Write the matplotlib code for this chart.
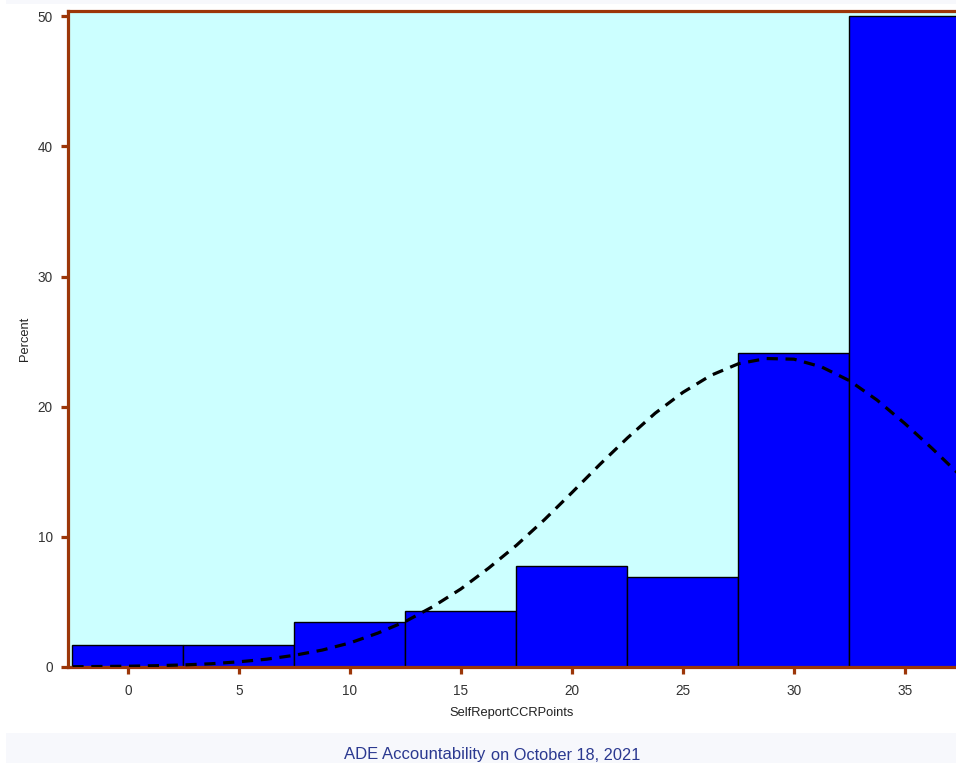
import matplotlib
matplotlib.use("Agg")
import matplotlib.pyplot as plt
from matplotlib.patches import Rectangle

# -------------------------
# Data
# -------------------------
bin_centers = [0, 5, 10, 15, 20, 25, 30, 35]
percent = [1.72, 1.72, 3.45, 4.31, 7.76, 6.90, 24.14, 50.0]
bin_width = 5

# normal curve
curve_x = [-2.5, -1.25, 0, 1.25, 2.5, 3.75, 5, 6.25, 7.5, 8.75, 10, 11.25, 12.5,
           13.75, 15, 16.25, 17.5, 18.75, 20, 21.25, 22.5, 23.75, 25, 26.25, 27.5,
           28.75, 30, 31.25, 32.5, 33.75, 35, 36.25, 37.5]
curve_y = [0.02, 0.04, 0.06, 0.10, 0.16, 0.25, 0.4, 0.6, 0.9, 1.3, 1.85, 2.6, 3.5,
           4.65, 6.0, 7.6, 9.35, 11.3, 13.4, 15.55, 17.6, 19.5, 21.1, 22.4, 23.3,
           23.7, 23.65, 23.05, 22.0, 20.5, 18.7, 16.75, 14.7]

x_ticks = [0, 5, 10, 15, 20, 25, 30, 35]
y_ticks = [0, 10, 20, 30, 40, 50]

SPINE = "#9c3608"
W, H = 956, 763

plt.rcParams['font.family'] = ['Liberation Sans', 'DejaVu Sans']

fig = plt.figure(figsize=(W / 100, H / 100), dpi=100, facecolor="white")

# light page bands (top strip and footer)
fig.patches.append(Rectangle((6 / W, (H - 4) / H), 1, 4 / H, transform=fig.transFigure,
                             facecolor="#f7f8fc", edgecolor="none", zorder=0))
fig.patches.append(Rectangle((6 / W, 0), 1, 30 / H, transform=fig.transFigure,
                             facecolor="#f7f8fc", edgecolor="none", zorder=0))

ax = fig.add_axes([68 / W, 96 / H, (W - 68) / W, 656 / H])
ax.set_facecolor("#ccffff")

ax.bar(bin_centers, percent, width=bin_width, color="#0000ff", edgecolor="black",
       linewidth=1.0, zorder=2)
ax.plot(curve_x, curve_y, color="black", lw=2.3, linestyle=(0, (3.5, 2.4)), zorder=3)

ax.set_xlim(-2.7, 37.3)
ax.set_ylim(0, 50.4)
ax.set_xticks(x_ticks)
ax.set_yticks(y_ticks)

for side in ["left", "bottom", "top"]:
    ax.spines[side].set_color(SPINE)
    ax.spines[side].set_linewidth(2.3)
ax.spines["right"].set_visible(False)

ax.tick_params(axis="both", direction="out", color=SPINE, width=2.3, length=5,
               labelsize=9.8, labelcolor="#333333")
ax.tick_params(axis="x", pad=7)
ax.tick_params(axis="y", pad=6)

ax.set_xlabel("SelfReportCCRPoints", fontsize=9.3, color="#222222", labelpad=7)
ax.set_ylabel("Percent", fontsize=9.3, color="#222222", labelpad=5)

fig.text(415 / W, 1 - 754 / H, "ADE Accountability", ha="center", va="center",
         fontsize=12, color="#2b3990")
fig.text(566 / W, 1 - 756 / H, "on October 18, 2021", ha="center", va="center",
         fontsize=11.8, color="#2b3990")

fig.savefig("out.png", dpi=100, facecolor=fig.get_facecolor())
